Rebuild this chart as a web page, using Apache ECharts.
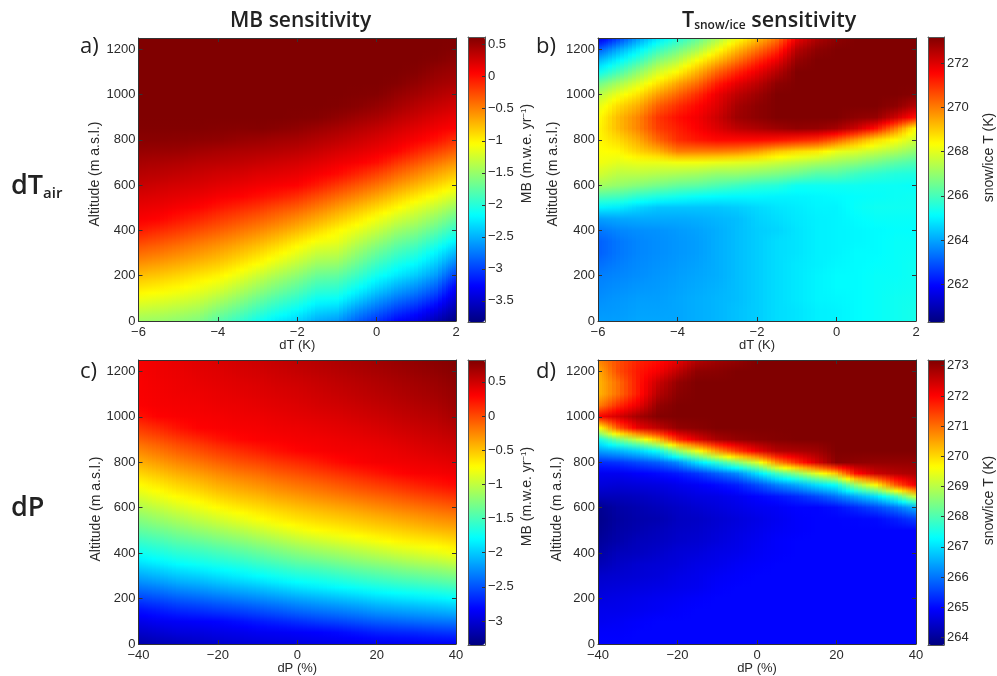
<!DOCTYPE html>
<html><head><meta charset="utf-8">
<style>html,body{margin:0;padding:0;background:#fff}#c{width:997px;height:676px}</style>
<script src="https://cdn.jsdelivr.net/npm/echarts@6/dist/echarts.min.js"></script>
</head><body><div id="c"></div>
<script>
// Row values: altitude (m a.s.l.)
const altitudes = [0,50,100,150,200,250,300,350,400,450,500,550,600,650,700,750,800,850,900,950,1000,1050,1100,1150,1200,1250];
const dTvalues = [-6,-5.5,-5,-4.5,-4,-3.5,-3,-2.5,-2,-1.5,-1,-0.5,0,0.5,1,1.5,2];
const dPvalues = [-40,-35,-30,-25,-20,-15,-10,-5,0,5,10,15,20,25,30,35,40];
const altTicks = [0,200,400,600,800,1000,1200];
const dTticks = [-6,-4,-2,0,2];
const dPticks = [-40,-20,0,20,40];
const barTicksA = [-3.5,-3,-2.5,-2,-1.5,-1,-0.5,0,0.5];
const barTicksB = [262,264,266,268,270,272];
const barTicksC = [-3,-2.5,-2,-1.5,-1,-0.5,0,0.5];
const barTicksD = [264,265,266,267,268,269,270,271,272,273];

// Each inner list is one column (one dT or dP value), from 0 m up to 1250 m
const mbByDT = [
[-1.47,-1.29,-1.11,-.93,-.76,-.58,-.40,-.22,-.04,.09,.16,.23,.31,.38,.45,.52,.58,.61,.62,.62,.62,.62,.62,.62,.62,.62],
[-1.49,-1.32,-1.15,-.97,-.80,-.63,-.45,-.28,-.11,.06,.14,.21,.28,.36,.43,.51,.58,.61,.62,.62,.62,.62,.62,.62,.62,.62],
[-1.54,-1.37,-1.20,-1.02,-.86,-.69,-.52,-.35,-.18,-.02,.10,.18,.25,.33,.41,.50,.57,.61,.62,.62,.62,.62,.62,.62,.62,.62],
[-1.6,-1.43,-1.26,-1.09,-.93,-.76,-.59,-.43,-.26,-.09,.06,.15,.23,.30,.38,.47,.56,.61,.62,.62,.62,.62,.62,.62,.62,.62],
[-1.78,-1.58,-1.38,-1.18,-1.0,-.83,-.67,-.51,-.34,-.18,-.02,.10,.19,.27,.36,.44,.55,.60,.62,.62,.62,.62,.62,.62,.62,.62],
[-1.92,-1.72,-1.52,-1.32,-1.12,-.94,-.77,-.60,-.43,-.26,-.09,.07,.16,.25,.34,.42,.52,.59,.62,.62,.62,.62,.62,.62,.62,.62],
[-2.09,-1.88,-1.68,-1.47,-1.27,-1.06,-.88,-.70,-.52,-.34,-.16,.01,.12,.21,.31,.40,.50,.60,.62,.62,.62,.62,.62,.62,.62,.62],
[-2.23,-2.02,-1.82,-1.61,-1.41,-1.20,-1.0,-.81,-.62,-.43,-.25,-.05,.09,.19,.28,.38,.47,.58,.62,.62,.62,.62,.62,.62,.62,.62],
[-2.34,-2.14,-1.94,-1.74,-1.54,-1.34,-1.14,-.95,-.74,-.54,-.33,-.13,.06,.16,.25,.35,.45,.55,.61,.62,.62,.62,.62,.62,.62,.62],
[-2.52,-2.31,-2.11,-1.90,-1.70,-1.49,-1.29,-1.08,-.88,-.67,-.46,-.26,-.05,.10,.20,.30,.40,.50,.60,.62,.62,.62,.62,.62,.62,.62],
[-2.6,-2.36,-2.13,-1.93,-1.73,-1.52,-1.32,-1.14,-1.02,-.81,-.60,-.39,-.18,.03,.14,.24,.35,.45,.55,.61,.62,.62,.62,.62,.62,.62],
[-2.85,-2.61,-2.35,-2.11,-1.90,-1.71,-1.52,-1.33,-1.15,-.95,-.74,-.52,-.31,-.09,.09,.19,.29,.39,.49,.58,.61,.62,.62,.62,.62,.62],
[-3.05,-2.81,-2.57,-2.32,-2.10,-1.91,-1.71,-1.50,-1.30,-1.10,-.88,-.66,-.44,-.22,.01,.13,.23,.33,.44,.53,.60,.62,.62,.62,.62,.62],
[-3.25,-3.0,-2.75,-2.5,-2.25,-2.07,-1.87,-1.67,-1.47,-1.25,-1.02,-.81,-.59,-.37,-.15,.06,.16,.26,.36,.46,.53,.60,.62,.62,.62,.62],
[-3.38,-3.14,-2.89,-2.64,-2.39,-2.19,-1.99,-1.78,-1.58,-1.37,-1.17,-.95,-.73,-.51,-.29,-.08,.09,.19,.29,.38,.47,.54,.60,.62,.62,.62],
[-3.6,-3.35,-3.1,-2.85,-2.6,-2.4,-2.2,-1.97,-1.75,-1.53,-1.31,-1.09,-.87,-.66,-.44,-.22,0,.12,.21,.31,.40,.47,.53,.60,.62,.62],
[-3.83,-3.65,-3.47,-3.28,-3.01,-2.75,-2.48,-2.21,-1.97,-1.73,-1.49,-1.25,-1.02,-.80,-.58,-.36,-.15,.06,.15,.25,.34,.43,.49,.55,.60,.62]
];
const tsByDT = [
[263.9,263.8,263.7,263.6,263.5,263.3,263.1,263.1,263.4,263.9,265.0,266.1,267.2,267.8,268.2,268.3,268.4,268.4,268.3,268.0,267.4,266.5,265.2,264.2,263.0,261.5],
[263.9,263.85,263.8,263.7,263.6,263.5,263.4,263.4,263.6,264,264.9,266,267,267.5,268,268.4,268.8,269.2,269.2,268.8,268.1,267.2,266.0,265.0,264.0,262.6],
[264,263.95,263.9,263.8,263.7,263.65,263.6,263.6,263.7,264.05,264.6,265.7,266.8,267.5,268.1,268.9,269.4,269.9,269.9,269.4,268.7,267.9,266.9,265.8,264.9,263.8],
[264,263.95,263.9,263.85,263.8,263.75,263.7,263.7,263.75,264.05,264.4,265.5,266.6,267.4,268.1,269.3,270.3,270.8,270.9,270.4,269.6,268.7,267.8,266.8,265.8,264.8],
[264,264,264,263.95,263.9,263.85,263.8,263.8,263.85,264.05,264.4,265.35,266.4,267.3,268.2,270,271,271.2,271.4,271,270.3,269.5,268.4,267.4,266.5,265.5],
[264.1,264.1,264.1,264.05,264,263.95,263.9,263.9,263.95,264.1,264.4,265.2,266.3,267.2,268.2,270,271.3,271.6,271.7,271.5,271,270.2,269.3,268.3,267.2,266.3],
[264.2,264.2,264.2,264.15,264.1,264.1,264.1,264.1,264.1,264.2,264.4,265.1,266.1,267,268.1,270,271.5,272,272.2,272,271.8,271.2,270.3,269.2,268.2,267.2],
[264.35,264.35,264.3,264.3,264.3,264.3,264.3,264.3,264.3,264.3,264.5,265.05,265.9,267,268,269.9,271.5,272.4,272.8,272.7,272.4,271.9,271.1,270.1,269.2,268.2],
[264.5,264.5,264.5,264.5,264.5,264.5,264.5,264.5,264.5,264.55,264.65,265.05,265.7,266.85,267.9,269.6,271.5,272.6,273,273,272.8,272.4,271.8,271,270.1,269.1],
[264.7,264.7,264.7,264.7,264.7,264.7,264.7,264.7,264.6,264.7,264.8,265,265.6,266.7,267.7,269.1,271.4,272.8,273.18,273.18,273.18,273,272.5,271.8,271,270.1],
[264.8,264.8,264.85,264.85,264.85,264.85,264.8,264.8,264.8,264.85,264.9,265,265.3,266.5,267.5,268.8,271.2,272.95,273.18,273.18,273.18,273.18,273.18,272.9,272.5,271.8],
[264.95,264.95,265,265,265,264.95,264.95,264.95,264.95,264.95,265,265.05,265.3,266.2,267.3,268.6,271,272.9,273.18,273.18,273.18,273.18,273.18,273.18,273,272.6],
[265,265,265.05,265.1,265.1,265.05,265,265,265,265,265,265.1,265.3,266.2,267.1,268.1,270.4,272.7,273.18,273.18,273.18,273.18,273.18,273.18,273.18,273],
[265.1,265.1,265.1,265.1,265.1,265.1,265.1,265.05,265.05,265.1,265.2,265.15,265.3,265.9,266.9,267.9,269.6,272.2,273,273.18,273.18,273.18,273.18,273.18,273.18,273.18],
[265.2,265.2,265.2,265.2,265.2,265.15,265.1,265.1,265.1,265.2,265.3,265.2,265.25,265.7,266.6,267.6,268.8,271.4,272.9,273.18,273.18,273.18,273.18,273.18,273.18,273.18],
[265.3,265.3,265.3,265.25,265.2,265.2,265.2,265.2,265.15,265.2,265.3,265.25,265.25,265.55,266.3,267.3,268.3,270,272.2,273,273.18,273.18,273.18,273.18,273.18,273.18],
[265.4,265.4,265.35,265.3,265.3,265.3,265.25,265.2,265.15,265.2,265.3,265.3,265.2,265.5,266.1,266.9,267.7,268.3,271.3,272.5,273.1,273.18,273.18,273.18,273.18,273.18]
];
const mbByDP = [
[-3.18,-3.05,-2.92,-2.77,-2.56,-2.35,-2.14,-1.93,-1.74,-1.57,-1.40,-1.24,-1.07,-.91,-.74,-.58,-.42,-.26,-.09,.07,.23,.31,.32,.32,.33,.33],
[-3.13,-3.01,-2.88,-2.72,-2.51,-2.30,-2.08,-1.87,-1.68,-1.51,-1.34,-1.16,-.99,-.82,-.66,-.50,-.34,-.18,-.02,.14,.30,.33,.34,.35,.36,.36],
[-3.10,-2.97,-2.86,-2.66,-2.45,-2.23,-2.01,-1.80,-1.61,-1.43,-1.26,-1.08,-.90,-.73,-.57,-.41,-.25,-.09,.07,.23,.32,.34,.36,.37,.38,.39],
[-3.06,-2.96,-2.84,-2.63,-2.41,-2.19,-1.97,-1.75,-1.57,-1.38,-1.19,-1.0,-.82,-.66,-.50,-.34,-.18,-.02,.14,.30,.33,.35,.37,.39,.41,.42],
[-3.03,-2.93,-2.82,-2.59,-2.36,-2.13,-1.91,-1.70,-1.51,-1.31,-1.12,-.92,-.73,-.57,-.41,-.26,-.10,.06,.22,.32,.34,.37,.39,.41,.43,.45],
[-3.0,-2.91,-2.78,-2.55,-2.31,-2.08,-1.85,-1.65,-1.45,-1.25,-1.05,-.84,-.66,-.50,-.35,-.19,-.03,.12,.28,.33,.36,.38,.41,.43,.46,.48],
[-2.98,-2.88,-2.73,-2.50,-2.26,-2.03,-1.79,-1.58,-1.38,-1.17,-.97,-.76,-.60,-.45,-.29,-.14,.02,.18,.31,.34,.37,.40,.43,.45,.48,.51],
[-2.96,-2.87,-2.69,-2.45,-2.21,-1.97,-1.73,-1.52,-1.31,-1.10,-.89,-.69,-.54,-.38,-.23,-.07,.08,.24,.32,.36,.39,.42,.45,.48,.51,.54],
[-2.95,-2.85,-2.64,-2.39,-2.15,-1.90,-1.67,-1.45,-1.24,-1.02,-.81,-.63,-.48,-.33,-.17,-.02,.13,.29,.34,.37,.41,.44,.47,.50,.54,.57],
[-2.93,-2.83,-2.59,-2.34,-2.10,-1.85,-1.63,-1.41,-1.18,-.96,-.74,-.58,-.43,-.27,-.12,.04,.19,.32,.35,.39,.43,.47,.50,.53,.57,.60],
[-2.91,-2.80,-2.55,-2.30,-2.05,-1.80,-1.58,-1.35,-1.13,-.90,-.70,-.54,-.38,-.22,-.06,.10,.26,.34,.37,.41,.45,.49,.53,.56,.60,.63],
[-2.90,-2.75,-2.50,-2.25,-2.0,-1.75,-1.52,-1.29,-1.07,-.84,-.65,-.49,-.33,-.16,0,.16,.31,.35,.39,.43,.48,.52,.56,.59,.63,.66],
[-2.89,-2.70,-2.45,-2.19,-1.94,-1.70,-1.47,-1.24,-1.01,-.78,-.60,-.44,-.27,-.11,.06,.22,.34,.37,.41,.46,.51,.55,.59,.62,.66,.69],
[-2.88,-2.68,-2.42,-2.16,-1.90,-1.66,-1.42,-1.19,-.95,-.72,-.56,-.39,-.22,-.06,.11,.28,.35,.39,.44,.49,.54,.58,.62,.65,.69,.72],
[-2.87,-2.66,-2.39,-2.13,-1.87,-1.62,-1.38,-1.13,-.90,-.68,-.51,-.34,-.17,0,.17,.32,.37,.42,.47,.52,.57,.61,.65,.68,.72,.75],
[-2.86,-2.63,-2.36,-2.10,-1.83,-1.58,-1.33,-1.09,-.84,-.65,-.46,-.29,-.12,.05,.22,.33,.39,.45,.50,.55,.60,.64,.68,.71,.75,.78],
[-2.85,-2.61,-2.34,-2.06,-1.79,-1.53,-1.28,-1.02,-.77,-.59,-.42,-.25,-.07,.10,.27,.36,.42,.48,.54,.60,.66,.70,.73,.76,.79,.81]
];
const tsByDP = [
[264.95,264.9,264.8,264.75,264.65,264.55,264.45,264.25,264.1,264.0,263.9,263.85,263.9,264.3,264.6,264.8,265.3,266.4,267.4,269.5,272,270.8,270.3,270.3,270.4,270.8],
[264.95,264.9,264.85,264.75,264.7,264.6,264.5,264.4,264.3,264.15,264.1,264.05,264.1,264.3,264.55,264.8,265.4,266.6,268.4,271.2,272.4,271.6,271,271,271.3,271.3],
[264.95,264.95,264.9,264.8,264.75,264.65,264.55,264.5,264.35,264.3,264.2,264.15,264.2,264.35,264.6,264.9,265.6,266.9,269.2,272.2,272.85,272.2,271.8,271.8,271.8,271.7],
[264.95,264.95,264.95,264.85,264.8,264.7,264.6,264.55,264.45,264.35,264.3,264.2,264.3,264.45,264.65,265,265.8,267.4,270.2,272.6,273.15,273,272.7,272.5,272.1,271.9],
[264.95,264.95,264.95,264.9,264.85,264.75,264.7,264.6,264.55,264.45,264.4,264.35,264.4,264.55,264.75,265.15,266.2,268.6,271.6,273,273.19,273.19,273.1,273,272.6,272.2],
[264.95,264.95,264.95,264.95,264.9,264.8,264.75,264.7,264.6,264.5,264.45,264.4,264.5,264.65,264.85,265.4,267,269.5,272.3,273.1,273.19,273.19,273.19,273.19,273.05,272.7],
[264.95,264.95,264.95,264.95,264.95,264.9,264.85,264.75,264.7,264.6,264.55,264.5,264.6,264.7,265,265.8,267.7,270.6,272.8,273.19,273.19,273.19,273.19,273.19,273.1,272.9],
[264.95,264.95,264.95,264.95,264.95,264.95,264.9,264.85,264.75,264.7,264.65,264.6,264.7,264.8,265.2,266.2,268.5,271.5,273,273.19,273.19,273.19,273.19,273.19,273.19,273],
[264.95,264.95,264.95,264.95,264.95,264.95,264.95,264.9,264.85,264.8,264.75,264.7,264.8,264.95,265.6,267,269.3,272.2,273.1,273.19,273.19,273.19,273.19,273.19,273.19,273.19],
[264.95,264.95,264.95,264.95,264.95,264.95,264.95,264.95,264.9,264.9,264.85,264.8,264.85,265.1,266.1,267.9,270.7,272.7,273.15,273.19,273.19,273.19,273.19,273.19,273.19,273.19],
[264.95,264.95,264.95,264.95,264.95,264.95,264.95,264.95,264.95,264.95,264.9,264.9,264.95,265.3,266.5,268.6,271.6,272.8,273.19,273.19,273.19,273.19,273.19,273.19,273.19,273.19],
[264.95,264.95,264.95,264.95,264.95,264.95,264.95,264.95,264.95,264.95,264.95,264.95,264.95,265.6,267,269.4,272.4,272.9,273.19,273.19,273.19,273.19,273.19,273.19,273.19,273.19],
[264.95,264.95,264.95,264.95,264.95,264.95,264.95,264.95,264.95,264.95,264.95,264.95,265.05,266,267.4,270.2,273.1,273.19,273.19,273.19,273.19,273.19,273.19,273.19,273.19,273.19],
[264.95,264.95,264.95,264.95,264.95,264.95,264.95,264.95,264.95,264.95,264.95,264.97,265.3,266.5,268.7,271.9,273.05,273.19,273.19,273.19,273.19,273.19,273.19,273.19,273.19,273.19],
[264.95,264.95,264.95,264.95,264.95,264.95,264.95,264.95,264.95,264.95,264.95,265,265.6,267,269.7,272.5,273,273.19,273.19,273.19,273.19,273.19,273.19,273.19,273.19,273.19],
[264.95,264.95,264.95,264.95,264.95,264.95,264.95,264.95,264.95,264.95,264.95,265.2,266,267.9,271.2,272.7,273,273.19,273.19,273.19,273.19,273.19,273.19,273.19,273.19,273.19],
[264.95,264.95,264.95,264.95,264.95,264.95,264.95,264.95,264.95,264.95,264.95,265.5,266.6,269.3,272.2,272.8,273,273.19,273.19,273.19,273.19,273.19,273.19,273.19,273.19,273.19]
];
const jet = ['#000080','#0000ff','#0080ff','#00ffff','#80ff80','#ffff00','#ff8000','#ff0000','#800000'];

const INK = '#2a2a2a', FONT = '"Liberation Sans", Arial, sans-serif', HEAD = '"Open Sans", sans-serif';
const minusFmt = v => String(v).replace('-', '\u2212');
const MBNAME='{n|MB (m.w.e. yr}{s|\u22121}{n|)}', TSNAME='{n|snow/ice T (K)}';

const panels = [
  {cols: mbByDT, xs: dTvalues, xTicks: dTticks, xName: 'dT (K)', xMin:-6, xMax:2,
   grid:{left:138.5,top:38,width:317.5,height:283}, altPad:[0,0,0,11], altGap:36,
   bar:{left:468,top:37,width:17,height:285,min:-3.83,max:.62,ticks:barTicksA,pad:[0,0,0,52],gap:35,name:MBNAME}},
  {cols: tsByDT, xs: dTvalues, xTicks: dTticks, xName: 'dT (K)', xMin:-6, xMax:2,
   grid:{left:598,top:38,width:318,height:283}, altPad:[0,0,0,11], altGap:38,
   bar:{left:928,top:37,width:17,height:285,min:260.3,max:273.18,ticks:barTicksB,pad:[0,0,0,44],gap:38,name:TSNAME}},
  {cols: mbByDP, xs: dPvalues, xTicks: dPticks, xName: 'dP (%)', xMin:-40, xMax:40,
   grid:{left:138.5,top:360,width:317.5,height:284}, altPad:[0,14,0,0], altGap:35,
   bar:{left:468,top:360,width:17,height:285,min:-3.35,max:.82,ticks:barTicksC,pad:[0,0,0,12],gap:35,name:MBNAME}},
  {cols: tsByDP, xs: dPvalues, xTicks: dPticks, xName: 'dP (%)', xMin:-40, xMax:40,
   grid:{left:598,top:360,width:318,height:284}, altPad:[0,14,0,0], altGap:34,
   bar:{left:928,top:360,width:17,height:285,min:263.75,max:273.19,ticks:barTicksD,pad:[0,0,0,4],gap:38,name:TSNAME}}
];
const STRIPS = 5;
const grids=[], xAxes=[], yAxes=[], series=[], visualMaps=[];
const line = {show:true,onZero:false,lineStyle:{color:'#333',width:1}};
const lab = {color:INK,fontFamily:FONT,fontSize:13};
const nameRich = {n:{color:INK,fontFamily:FONT,fontSize:14},s:{color:INK,fontFamily:FONT,fontSize:8,padding:[0,0,7,0]}};

panels.forEach((p,i)=>{
  const g = grids.length;
  grids.push({left:p.grid.left,top:p.grid.top,width:p.grid.width,height:p.grid.height});
  const xi = xAxes.length, yi = yAxes.length;
  xAxes.push({gridIndex:g,type:'value',min:p.xMin,max:p.xMax,position:'bottom',z:10,splitLine:{show:false},
    axisLine:line,axisTick:{inside:true,length:4,customValues:p.xTicks,lineStyle:{color:'#333'}},
    axisLabel:{...lab,margin:5,customValues:p.xTicks,formatter:minusFmt,hideOverlap:false},
    name:p.xName,nameLocation:'middle',nameGap:18,nameMoveOverlap:false,nameTextStyle:{...lab}});
  xAxes.push({gridIndex:g,type:'value',min:p.xMin,max:p.xMax,position:'top',z:10,splitLine:{show:false},
    axisLine:line,axisTick:{inside:true,length:4,customValues:p.xTicks,lineStyle:{color:'#333'}},axisLabel:{show:false}});
  yAxes.push({gridIndex:g,type:'value',min:0,max:1250,position:'left',z:10,splitLine:{show:false},
    axisLine:line,axisTick:{inside:true,length:4,customValues:altTicks,lineStyle:{color:'#333'}},
    axisLabel:{...lab,margin:3,customValues:altTicks,formatter:v=>String(v),hideOverlap:false},
    name:'Altitude (m a.s.l.)',nameLocation:'middle',nameGap:p.altGap,nameMoveOverlap:false,
    nameTextStyle:{...lab,fontSize:14,padding:p.altPad}});
  yAxes.push({gridIndex:g,type:'value',min:0,max:1250,position:'right',z:10,splitLine:{show:false},
    axisLine:line,axisTick:{inside:true,length:4,customValues:altTicks,lineStyle:{color:'#333'}},axisLabel:{show:false}});
  const data=[];
  const nR=altitudes.length, nC=p.cols.length;
  p.cols.forEach((col,c)=>col.forEach((v,r)=>data.push([p.xs[c],altitudes[r],v])));
  // colour of the surface at a fractional column/row position (shaded drawing between read values)
  const colorAt=(cf,rf)=>{
    const c0=Math.min(Math.floor(cf),nC-2), r0=Math.min(Math.floor(rf),nR-2), u=cf-c0, w=rf-r0;
    const v=(p.cols[c0][r0]*(1-u)+p.cols[c0+1][r0]*u)*(1-w)+(p.cols[c0][r0+1]*(1-u)+p.cols[c0+1][r0+1]*u)*w;
    return echarts.color.lerp(echarts.number.linearMap(v,[p.bar.min,p.bar.max],[0,1],true),jet);
  };
  const xOf=cf=>p.xs[0]+cf*(p.xs[1]-p.xs[0]), yOf=rf=>altitudes[0]+rf*(altitudes[1]-altitudes[0]);
  series.push({type:'custom',coordinateSystem:'cartesian2d',xAxisIndex:xi,yAxisIndex:yi,silent:true,z:2,
    data,encode:{x:0,y:1},
    renderItem:(params,api)=>{
      const c=Math.floor(params.dataIndex/nR), r=params.dataIndex%nR;
      const cA=Math.max(c-.5,0), cB=Math.min(c+.5,nC-1), rA=Math.max(r-.5,0), rB=Math.min(r+.5,nR-1);
      const kids=[];
      for(let k=0;k<STRIPS;k++){
        const f0=cA+(cB-cA)*k/STRIPS, f1=cA+(cB-cA)*(k+1)/STRIPS, fm=(f0+f1)/2;
        const a=api.coord([xOf(f0),yOf(rB)]), b=api.coord([xOf(f1),yOf(rA)]);
        const x0=Math.round(a[0]),y0=Math.round(a[1]),x1=Math.round(b[0]),y1=Math.round(b[1]);
        kids.push({type:'rect',shape:{x:x0,y:y0,width:x1-x0,height:y1-y0},
          style:{stroke:null,fill:new echarts.graphic.LinearGradient(0,0,0,1,[
            {offset:0,color:colorAt(fm,rB)},
            {offset:(rB-r)/(rB-rA),color:colorAt(fm,r)},
            {offset:1,color:colorAt(fm,rA)}])}});
      }
      return {type:'group',children:kids};
    }});
  visualMaps.push({type:'continuous',seriesIndex:i,dimension:2,min:p.bar.min,max:p.bar.max,
    left:p.bar.left,top:p.bar.top,itemWidth:p.bar.width,itemHeight:p.bar.height,padding:0,
    calculable:false,hoverLink:false,realtime:false,inRange:{color:jet},text:null,z:4});
  // colour-bar frame and tick axis
  const gb = grids.length;
  grids.push({left:p.bar.left,top:p.bar.top,width:p.bar.width,height:p.bar.height});
  const barFrame={show:true,onZero:false,lineStyle:{color:'#555',width:1}};
  xAxes.push({gridIndex:gb,type:'value',min:0,max:1,position:'bottom',z:10,splitLine:{show:false},axisLine:barFrame,axisTick:{show:false},axisLabel:{show:false}});
  xAxes.push({gridIndex:gb,type:'value',min:0,max:1,position:'top',z:10,splitLine:{show:false},axisLine:barFrame,axisTick:{show:false},axisLabel:{show:false}});
  yAxes.push({gridIndex:gb,type:'value',min:p.bar.min,max:p.bar.max,position:'left',z:10,splitLine:{show:false},axisLine:barFrame,axisTick:{show:false},axisLabel:{show:false}});
  yAxes.push({gridIndex:gb,type:'value',min:p.bar.min,max:p.bar.max,position:'right',z:10,splitLine:{show:false},axisLine:barFrame,
    axisTick:{inside:true,length:3,customValues:p.bar.ticks,lineStyle:{color:'#333'}},
    axisLabel:{...lab,margin:3,customValues:p.bar.ticks,formatter:minusFmt,hideOverlap:false},
    name:p.bar.name,nameLocation:'middle',nameGap:p.bar.gap,nameMoveOverlap:false,nameRotate:90,
    nameTextStyle:{rich:nameRich,padding:p.bar.pad}});
});

const headBold={fontFamily:HEAD,fontWeight:600,color:'#222'};
const panelLab={fontFamily:HEAD,fontWeight:400,fontSize:22,color:'#222'};
const titles=[
  {text:'MB sensitivity',left:230,top:11,padding:0,textStyle:{...headBold,fontSize:21}},
  {text:'{t|T}{u|snow/ice}{t| sensitivity}',left:682,top:10,padding:0,textStyle:{...headBold,rich:{
     t:{...headBold,fontSize:21.5},u:{...headBold,fontSize:12,verticalAlign:'bottom',padding:[10,0,0,0]}}}},
  {text:'{t|dT}{u|air}',left:11,top:172,padding:0,textStyle:{...headBold,rich:{
     t:{...headBold,fontSize:27},u:{...headBold,fontSize:15,verticalAlign:'bottom',padding:[14,0,0,0]}}}},
  {text:'dP',left:11,top:495,padding:0,textStyle:{...headBold,fontSize:27}},
  {text:'a)',left:80,top:36,padding:0,textStyle:panelLab},
  {text:'b)',left:536,top:36,padding:0,textStyle:panelLab},
  {text:'c)',left:80,top:361,padding:0,textStyle:panelLab},
  {text:'d)',left:536,top:361,padding:0,textStyle:panelLab}
];
const chart=echarts.init(document.getElementById('c'),null,{renderer:'canvas'});
chart.setOption({animation:false,backgroundColor:'#fff',title:titles,grid:grids,xAxis:xAxes,yAxis:yAxes,visualMap:visualMaps,series});
</script></body></html>
